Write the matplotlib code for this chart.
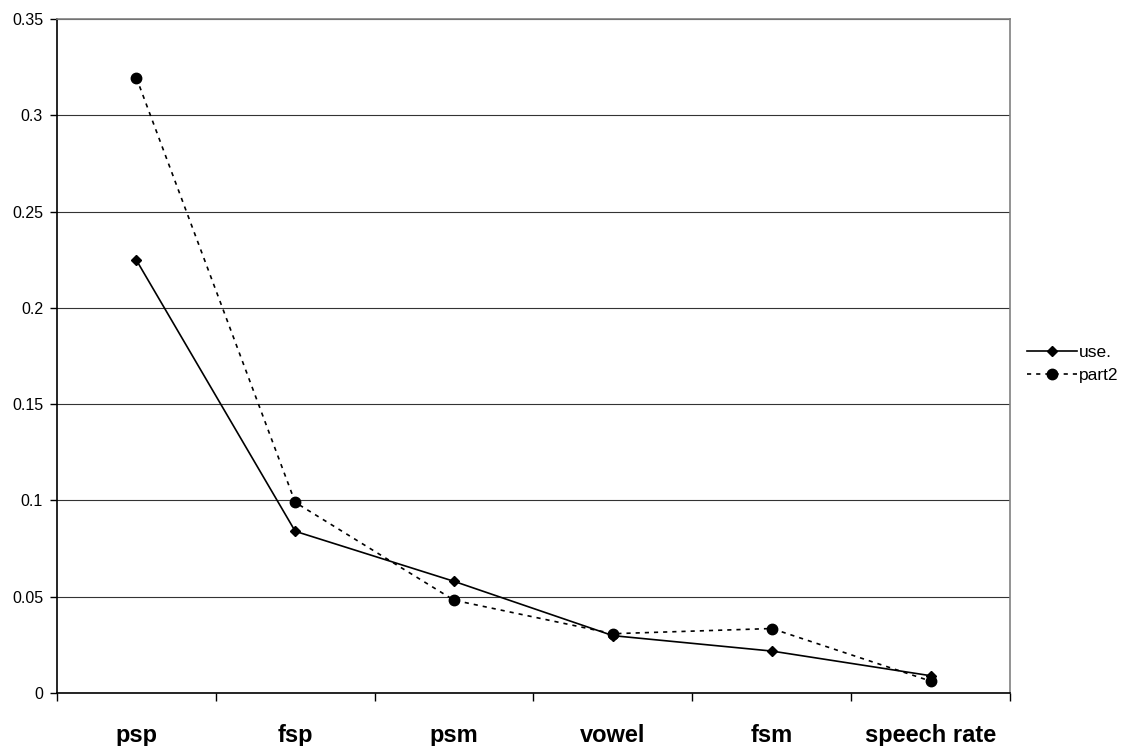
import matplotlib
matplotlib.use("Agg")
import matplotlib.pyplot as plt

categories = ["psp", "fsp", "psm", "vowel", "fsm", "speech rate"]
use_values = [0.2248, 0.0840, 0.0580, 0.0298, 0.0218, 0.0090]
part2_values = [0.3195, 0.0990, 0.0482, 0.0308, 0.0335, 0.0062]
yticks = [0, 0.05, 0.1, 0.15, 0.2, 0.25, 0.3, 0.35]
ytick_labels = ["0", "0.05", "0.1", "0.15", "0.2", "0.25", "0.3", "0.35"]

fig = plt.figure(figsize=(11.3, 7.46), dpi=100)
ax = fig.add_axes([0.0504, 0.071, 0.8434, 0.9035])

x = list(range(len(categories)))
ax.plot(x, use_values, color="black", lw=1.2, marker="D", markersize=5.5, label="use.", zorder=3)
ax.plot(x, part2_values, color="black", lw=1.2, ls=(0, (2.5, 3)), marker="o", markersize=7.5, label="part2", zorder=3)

ax.set_xlim(-0.5, len(categories) - 0.5)
ax.set_ylim(0, 0.35)
ax.set_yticks(yticks)
ax.set_yticklabels(ytick_labels, fontsize=11.5, family="Liberation Sans")
ax.set_xticks(x)
ax.set_xticklabels(categories, fontsize=17, fontweight="bold", family="Liberation Sans")
ax.set_xticks([i - 0.5 for i in range(len(categories) + 1)], minor=True)
ax.tick_params(axis="x", which="major", length=0, pad=22)
ax.tick_params(axis="x", which="minor", length=6, width=1, direction="out")
ax.tick_params(axis="y", length=5, width=1, direction="out", pad=5)

ax.grid(axis="y", color="#333333", lw=0.8)
ax.set_axisbelow(True)
for s in ["left", "bottom"]:
    ax.spines[s].set_color("black")
    ax.spines[s].set_linewidth(1.2)
for s in ["right", "top"]:
    ax.spines[s].set_color("#808080")
    ax.spines[s].set_linewidth(1.2)

leg = fig.legend(loc="center left", bbox_to_anchor=(0.895, 0.512), frameon=False,
                 prop={"family": "Liberation Sans", "size": 12.5}, handlelength=2.9,
                 handletextpad=0.1, labelspacing=0.45)

fig.savefig("out.png", dpi=100)
